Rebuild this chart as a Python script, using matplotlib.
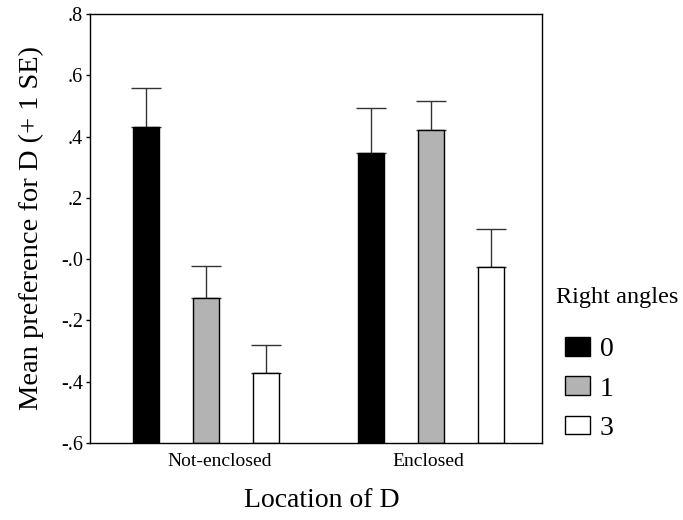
import numpy as np
import matplotlib
matplotlib.use("Agg")
import matplotlib.pyplot as plt
from matplotlib.ticker import FuncFormatter

plt.rcParams['font.family'] = ['Liberation Serif', 'DejaVu Serif']

locations = ['Not-enclosed', 'Enclosed']
angles = ['0', '1', '3']
means = {
    '0': [0.432, 0.347],
    '1': [-0.127, 0.420],
    '3': [-0.373, -0.027],
}
ses = {
    '0': [0.126, 0.145],
    '1': [0.103, 0.096],
    '3': [0.094, 0.126],
}
colors = {'0': 'black', '1': '#b3b3b3', '3': 'white'}

fig = plt.figure(figsize=(6.83, 5.2), dpi=100)
ax = fig.add_axes([90 / 683, 77 / 520, 452 / 683, 429 / 520])

x = np.arange(len(locations))
offset = 0.267
width = 0.116
bottom = -0.6

handles = []
for i, a in enumerate(angles):
    pos = x + (i - 1) * offset
    m = np.array(means[a])
    b = ax.bar(pos, m - bottom, width, bottom=bottom, color=colors[a],
               edgecolor='black', linewidth=1, label=a, zorder=2)
    ax.errorbar(pos, m, yerr=[np.zeros_like(m), ses[a]], fmt='none',
                ecolor='#333333', elinewidth=1, capsize=10.5, capthick=1, zorder=1)
    handles.append(b)

ax.set_xlim(-0.516, 1.493)
ax.set_ylim(-0.6, 0.8)
ax.set_yticks(np.arange(-0.6, 0.81, 0.2))


def fmt(v, _):
    if abs(v) < 1e-9:
        return "-.0"
    return f"{v:.1f}".replace("0.", ".")


ax.yaxis.set_major_formatter(FuncFormatter(fmt))
ax.tick_params(axis='y', direction='out', length=3, width=1, labelsize=14.5, pad=2)
# category labels sit a little off the group centres in the original
ax.set_xticks(x + np.array([0.06, -0.013]))
ax.set_xticklabels(locations, fontsize=14)
ax.tick_params(axis='x', length=0, pad=7)
for s in ax.spines.values():
    s.set_linewidth(1)

ax.set_ylabel('Mean preference for D (+ 1 SE)', fontsize=20.5, labelpad=12)
ax.set_xlabel('Location of D', fontsize=20, labelpad=15)
ax.xaxis.set_label_coords(0.513, -0.105)

fig.text(556 / 683, 1 - 297 / 520, 'Right angles', fontsize=17.5, va='center', ha='left')
fig.legend(handles=handles, labels=angles, loc='upper left',
           bbox_to_anchor=(565 / 683, 1 - 337 / 520), frameon=False, fontsize=20,
           handlelength=0.9, handleheight=0.65, labelspacing=0.52,
           handletextpad=0.35, borderpad=0, borderaxespad=0)

fig.savefig('out.png', dpi=100)
